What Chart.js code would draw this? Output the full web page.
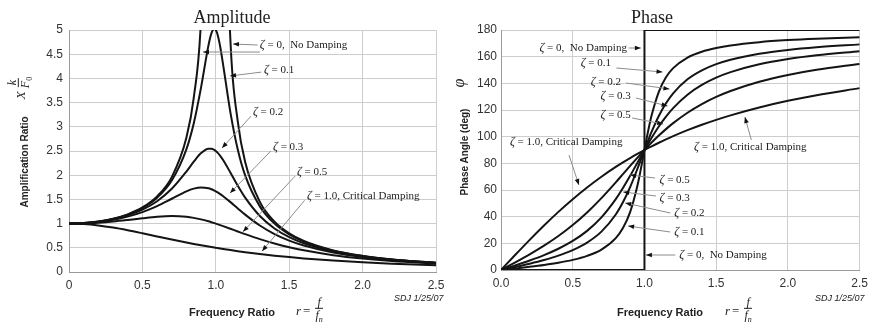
<!DOCTYPE html>
<html>
<head>
<meta charset="utf-8">
<script src="https://cdn.jsdelivr.net/npm/chart.js@4.4.1/dist/chart.umd.min.js"></script>
<style>
body { margin: 0; background: #fff; }
#wrap { position: relative; width: 874px; height: 330px; overflow: hidden; color: #222; font-family: "Liberation Sans", Arial, sans-serif; }
#wrap canvas { position: absolute; top: 0; }
.ttl { position: absolute; font: 18px "Liberation Serif", serif; transform: translate(-50%, -50%); white-space: nowrap; }
.axl { position: absolute; font-weight: bold; font-size: 11px; white-space: nowrap; transform: translate(-50%, -50%); }
.rot { transform: translate(-50%, -50%) rotate(-90deg); }
.math { position: absolute; font: italic 13px "Liberation Serif", serif; white-space: nowrap; display: flex; align-items: center; transform: translateY(-50%); }
.math.rot { transform: translate(-50%, -50%) rotate(-90deg); }
.frac { display: inline-flex; flex-direction: column; align-items: center; margin-left: 3px; font-size: 12px; line-height: 12px; }
.frac .n { border-bottom: 1px solid #222; padding: 0 2px; }
.eq { font-style: normal; margin: 0 2px; }
.sdj { position: absolute; font: italic 9px "Liberation Sans", sans-serif; white-space: nowrap; transform: translateY(-50%); }
</style>
</head>
<body>
<div id="wrap">
  <canvas id="ampChart" width="455" height="330" style="left:0"></canvas>
  <canvas id="phaseChart" width="437" height="330" style="left:437px"></canvas>

  <div class="ttl" style="left:232px;top:17px">Amplitude</div>
  <div class="ttl" style="left:652px;top:17px">Phase</div>

  <div class="axl rot" style="left:24px;top:162px;font-size:10px">Amplification Ratio</div>
  <div class="math rot" style="left:21px;top:88px">X<span class="frac"><span class="n">k</span><span>F<sub style="font-size:8px;font-style:normal">0</sub></span></span></div>
  <div class="axl rot" style="left:464px;top:152px;font-size:10px">Phase Angle (deg)</div>
  <div class="math rot" style="left:459px;top:83px;font-size:16px">&phi;</div>

  <div class="axl" style="left:232px;top:312px">Frequency Ratio</div>
  <div class="math" style="left:296px;top:311px">r<span class="eq">=</span><span class="frac"><span class="n">f</span><span>f<sub style="font-size:8px">n</sub></span></span></div>
  <div class="axl" style="left:660px;top:312px">Frequency Ratio</div>
  <div class="math" style="left:725px;top:311px">r<span class="eq">=</span><span class="frac"><span class="n">f</span><span>f<sub style="font-size:8px">n</sub></span></span></div>

  <div class="sdj" style="left:394px;top:298px">SDJ 1/25/07</div>
  <div class="sdj" style="left:815px;top:298px">SDJ 1/25/07</div>
</div>

<script>
// frequency ratio r = f / fn, shared by every curve
const ratio = [0, 0.1, 0.2, 0.3, 0.4, 0.5, 0.6, 0.7, 0.8, 0.85, 0.9, 0.95, 0.97, 0.99, 1.0,
               1.01, 1.03, 1.05, 1.1, 1.15, 1.2, 1.3, 1.4, 1.5, 1.6, 1.8, 2.0, 2.2, 2.5];

// amplification ratio X k / F0
const ampZeta0  = [1, 1.0101, 1.0417, 1.0989, 1.1905, 1.3333, 1.5625, 1.9608, 2.7778, 3.6036, 5.2632, 10.256, 16.92, 50.25, null,
                   49.75, 16.42, 9.756, 4.762, 3.101, 2.273, 1.449, 1.0417, 0.8, 0.641, 0.4464, 0.3333, 0.2604, 0.1905];
const ampZeta01 = [1, 1.0099, 1.0408, 1.0965, 1.1851, 1.3216, 1.5357, 1.8908, 2.5384, 3.0728, 3.8207, 4.6826, 4.931, 5.025, 5.0,
                   4.926, 4.655, 4.2794, 3.288, 2.5245, 1.9952, 1.3562, 1.0, 0.7779, 0.6279, 0.4408, 0.3304, 0.2587, 0.1896];
const ampZeta02 = [1, 1.0093, 1.0381, 1.0895, 1.1695, 1.2883, 1.463, 1.7188, 2.0761, 2.2786, 2.4566, 2.549, 2.5479, 2.5221, 2.5,
                   2.4722, 2.4011, 2.313, 2.0511, 1.78, 1.5357, 1.1574, 0.8998, 0.7212, 0.5931, 0.425, 0.3221, 0.2538, 0.1871];
const ampZeta03 = [1, 1.0082, 1.0336, 1.078, 1.1447, 1.238, 1.3618, 1.5136, 1.6667, 1.7223, 1.7469, 1.7293, 1.7094, 1.6826, 1.6667,
                   1.6493, 1.6103, 1.5667, 1.4438, 1.3129, 1.1851, 0.9603, 0.7839, 0.6492, 0.5459, 0.4021, 0.3095, 0.2463, 0.1831];
const ampZeta05 = [1, 1.005, 1.0198, 1.0436, 1.0748, 1.1094, 1.1399, 1.1546, 1.1399, 1.1184, 1.0871, 1.0471, 1.029, 1.0099, 1.0,
                   0.9899, 0.9692, 0.9479, 0.893, 0.8373, 0.7824, 0.6795, 0.5891, 0.5121, 0.4475, 0.348, 0.2774, 0.226, 0.172];
const ampZeta10 = [1, 0.9901, 0.9615, 0.9174, 0.8621, 0.8, 0.7353, 0.6711, 0.6098, 0.5806, 0.5525, 0.5256, 0.5152, 0.505, 0.5,
                   0.495, 0.4852, 0.4756, 0.4525, 0.4306, 0.4098, 0.3717, 0.3378, 0.3077, 0.2809, 0.2358, 0.2, 0.1712, 0.1379];

// phase angle (deg)
const phaseZeta01 = [0, 1.16, 2.39, 3.77, 5.44, 7.6, 10.62, 15.35, 23.96, 31.49, 43.45, 62.84, 73.06, 84.26, 90,
                     95.68, 106.47, 116.01, 133.67, 144.5, 151.39, 159.35, 163.74, 166.5, 168.41, 170.87, 172.41, 173.46, 174.56];
const phaseZeta02 = [0, 2.31, 4.76, 7.51, 10.78, 14.93, 20.56, 28.77, 41.63, 50.78, 62.18, 75.61, 81.34, 87.12, 90,
                     92.85, 98.41, 103.71, 115.51, 125.03, 132.51, 143.0, 149.74, 154.36, 157.69, 162.18, 165.07, 167.09, 169.22];
const phaseZeta03 = [0, 3.47, 7.13, 11.19, 15.95, 21.8, 29.36, 39.47, 53.13, 61.45, 70.62, 80.29, 84.2, 88.08, 90,
                     91.9, 95.63, 99.24, 107.65, 115.05, 121.43, 131.5, 138.81, 144.25, 148.39, 154.26, 158.2, 161.03, 164.05];
const phaseZeta05 = [0, 5.77, 11.77, 18.25, 25.46, 33.69, 43.15, 53.93, 65.77, 71.92, 78.08, 84.14, 86.51, 88.85, 90,
                     91.14, 93.38, 95.58, 100.81, 105.66, 110.14, 117.95, 124.44, 129.81, 134.27, 141.22, 146.31, 150.19, 154.54];
const phaseZeta10 = [0, 11.42, 22.62, 33.4, 43.6, 53.13, 61.93, 69.98, 77.32, 80.72, 83.97, 87.06, 88.26, 89.43, 90,
                     90.57, 91.7, 92.79, 95.45, 97.98, 100.39, 104.86, 108.92, 112.62, 115.99, 121.89, 126.87, 131.11, 136.4];
// no damping: step from 0 to 180 deg at resonance
const undampedX = [0, 1, 1, 2.5];
const undampedPhase = [0, 0, 180, 180];

const ampYTicks = ['0', '0.5', '1', '1.5', '2', '2.5', '3', '3.5', '4', '4.5', '5'];
const phaseXTicks = ['0.0', '0.5', '1.0', '1.5', '2.0', '2.5'];

// curve labels: text, text position, leader lines [from, to] (all in data units)
const ampNotes = [
    { text: 'ζ = 0,  No Damping', at: [1.30, 4.69], legs: [[[1.285, 4.69], [1.117, 4.71]], [[1.30, 4.545], [0.913, 4.545]]] },
    { text: 'ζ = 0.1', at: [1.328, 4.17], legs: [[[1.31, 4.13], [1.097, 4.05]]] },
    { text: 'ζ = 0.2', at: [1.253, 3.31], legs: [[[1.24, 3.22], [1.042, 2.56]]] },
    { text: 'ζ = 0.3', at: [1.39, 2.58], legs: [[[1.375, 2.5], [1.097, 1.63]]] },
    { text: 'ζ = 0.5', at: [1.553, 2.07], legs: [[[1.54, 1.98], [1.185, 0.83]]] },
    { text: 'ζ = 1.0, Critical Damping', at: [1.621, 1.57], legs: [[[1.605, 1.48], [1.315, 0.43]]] }
];
const phaseNotes = [
    { text: 'ζ = 0,  No Damping', at: [0.268, 166.5], legs: [[[0.89, 166.5], [0.975, 166.5]]] },
    { text: 'ζ = 0.1', at: [0.556, 155.25], legs: [[[0.804, 151.5], [1.126, 148.5]]] },
    { text: 'ζ = 0.2', at: [0.625, 141], legs: [[[0.872, 140.25], [1.174, 135.75]]] },
    { text: 'ζ = 0.3', at: [0.694, 130.5], legs: [[[0.941, 129], [1.161, 123]]] },
    { text: 'ζ = 0.5', at: [0.694, 116.25], legs: [[[0.914, 114], [1.13, 109.5]]] },
    { text: 'ζ = 1.0, Critical Damping', at: [0.062, 96], legs: [[[0.474, 86.25], [0.543, 63.75]]] },
    { text: 'ζ = 1.0, Critical Damping', at: [1.346, 92.25], legs: [[[1.745, 97.5], [1.70, 114.75]]] },
    { text: 'ζ = 0.5', at: [1.105, 67.5], legs: [[[1.074, 69], [0.90, 71.25]]] },
    { text: 'ζ = 0.3', at: [1.105, 54], legs: [[[1.08, 55.5], [0.852, 58.5]]] },
    { text: 'ζ = 0.2', at: [1.208, 42.75], legs: [[[1.18, 42.75], [0.866, 50.25]]] },
    { text: 'ζ = 0.1', at: [1.208, 28.5], legs: [[[1.18, 28.5], [0.886, 33]]] },
    { text: 'ζ = 0,  No Damping', at: [1.243, 11.25], legs: [[[1.215, 11.25], [1.01, 11.25]]] }
];

const toPoints = (xs, ys) => xs.map((x, i) => ({ x: x, y: ys[i] }));

function curve(values, xs) {
    return {
        data: toPoints(xs || ratio, values),
        borderColor: '#141414',
        borderWidth: 2,
        pointRadius: 0,
        cubicInterpolationMode: 'monotone',
        fill: false
    };
}

// draws the leader lines, arrow heads and zeta labels
function leaderPlugin(notes) {
    return {
        id: 'leaders',
        afterDatasetsDraw(chart) {
            const { ctx, scales: { x, y } } = chart;
            ctx.save();
            notes.forEach(n => {
                n.legs.forEach(([from, to]) => {
                    const x1 = x.getPixelForValue(from[0]), y1 = y.getPixelForValue(from[1]);
                    const x2 = x.getPixelForValue(to[0]), y2 = y.getPixelForValue(to[1]);
                    ctx.strokeStyle = '#8c8c8c';
                    ctx.lineWidth = 1;
                    ctx.beginPath();
                    ctx.moveTo(x1, y1);
                    ctx.lineTo(x2, y2);
                    ctx.stroke();
                    const a = Math.atan2(y2 - y1, x2 - x1);
                    ctx.fillStyle = '#111';
                    ctx.beginPath();
                    ctx.moveTo(x2, y2);
                    ctx.lineTo(x2 - 6 * Math.cos(a) + 2.3 * Math.sin(a), y2 - 6 * Math.sin(a) - 2.3 * Math.cos(a));
                    ctx.lineTo(x2 - 6 * Math.cos(a) - 2.3 * Math.sin(a), y2 - 6 * Math.sin(a) + 2.3 * Math.cos(a));
                    ctx.closePath();
                    ctx.fill();
                });
                const tx = x.getPixelForValue(n.at[0]), ty = y.getPixelForValue(n.at[1]);
                ctx.textBaseline = 'middle';
                ctx.fillStyle = '#222';
                ctx.font = 'italic 12px "Liberation Serif"';
                ctx.fillText(n.text[0], tx, ty);
                const w = ctx.measureText(n.text[0]).width;
                ctx.font = '11px "Liberation Serif"';
                ctx.fillText(n.text.slice(1), tx + w, ty);
            });
            ctx.restore();
        }
    };
}

const tickFont = { family: '"Liberation Sans", Arial, sans-serif', size: 12 };
const gridStyle = { color: '#cdcdcd', drawTicks: false };
const borderStyle = { color: '#9a9a9a' };

new Chart(document.getElementById('ampChart'), {
    type: 'line',
    data: {
        datasets: [
            curve(ampZeta0), curve(ampZeta01), curve(ampZeta02),
            curve(ampZeta03), curve(ampZeta05), curve(ampZeta10)
        ]
    },
    options: {
        responsive: false,
        animation: false,
        devicePixelRatio: 1,
        layout: { padding: { top: 30, right: 19, left: 0, bottom: 0 } },
        plugins: { legend: { display: false }, tooltip: { enabled: false }, title: { display: false } },
        scales: {
            x: {
                type: 'linear', min: 0, max: 2.5,
                ticks: { stepSize: 0.5, padding: 6, color: '#333', font: tickFont, maxRotation: 0 },
                grid: gridStyle, border: borderStyle,
                afterFit: s => { s.height = 58; }
            },
            y: {
                min: 0, max: 5,
                ticks: { stepSize: 0.5, padding: 6, color: '#333', font: tickFont,
                         callback: (v, i) => ampYTicks[i] },
                grid: gridStyle, border: borderStyle,
                afterFit: s => { s.width = 69; }
            }
        }
    },
    plugins: [leaderPlugin(ampNotes)]
});

const undamped = curve(undampedPhase, undampedX);
undamped.cubicInterpolationMode = 'default';
undamped.tension = 0;

new Chart(document.getElementById('phaseChart'), {
    type: 'line',
    data: {
        datasets: [
            undamped, curve(phaseZeta01), curve(phaseZeta02),
            curve(phaseZeta03), curve(phaseZeta05), curve(phaseZeta10)
        ]
    },
    options: {
        responsive: false,
        animation: false,
        devicePixelRatio: 1,
        layout: { padding: { top: 30, right: 9, left: 0, bottom: 0 } },
        plugins: { legend: { display: false }, tooltip: { enabled: false }, title: { display: false } },
        scales: {
            x: {
                type: 'linear', min: 0, max: 2.5,
                ticks: { stepSize: 0.5, padding: 6, color: '#333', font: tickFont, maxRotation: 0,
                         callback: (v, i) => phaseXTicks[i] },
                grid: gridStyle, border: borderStyle,
                afterFit: s => { s.height = 60; }
            },
            y: {
                min: 0, max: 180,
                ticks: { stepSize: 20, padding: 4, color: '#333', font: tickFont },
                grid: gridStyle, border: borderStyle,
                afterFit: s => { s.width = 64; }
            }
        }
    },
    plugins: [leaderPlugin(phaseNotes)]
});
</script>
</body>
</html>
